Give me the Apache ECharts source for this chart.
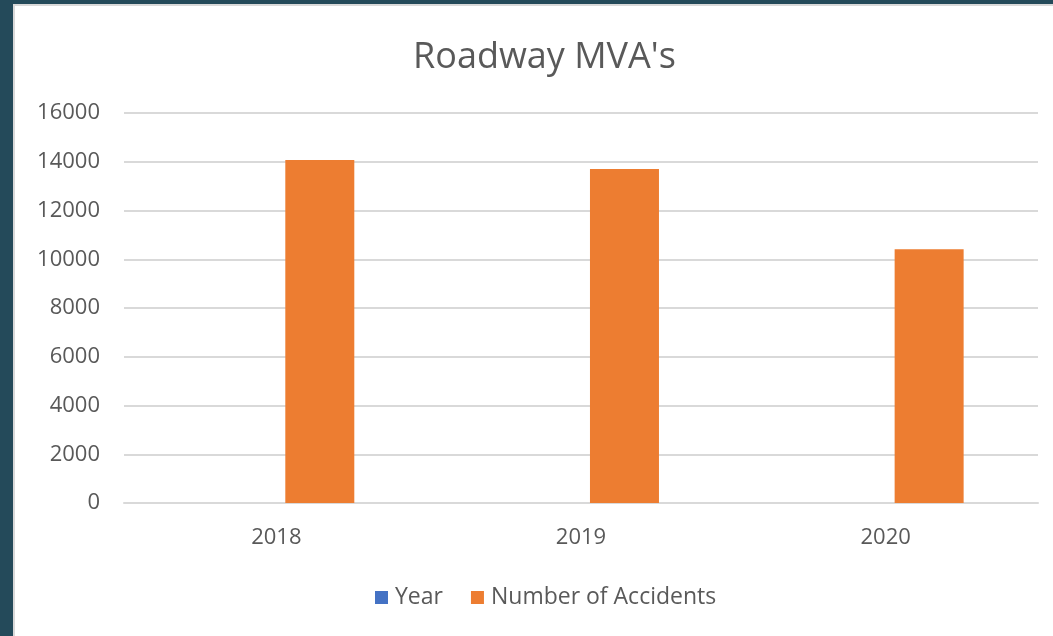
<!DOCTYPE html>
<html>
<head>
<meta charset="utf-8">
<script src="https://cdn.jsdelivr.net/npm/echarts@6/dist/echarts.min.js"></script>
<style>
  html, body { margin: 0; padding: 0; width: 1053px; height: 636px; overflow: hidden; background: #244a5a; }
  #frame { position: absolute; left: 13px; top: 4px; width: 1038px; height: 630px; border-left: 2px solid #d9d9d9; border-top: 2px solid #d9d9d9; background: #ffffff; }
  #chart { width: 1038px; height: 630px; }
</style>
</head>
<body>
<div id="frame"><div id="chart"></div></div>
<script>
// Roadway motor vehicle accidents per year
const categories = ['2018', '2019', '2020'];
const yearValues = [null, null, null];
const accidentValues = [14070, 13700, 10410];
const yTicks = { min: 0, max: 16000, interval: 2000 };

const textColor = '#595959';
const fontFamily = '"Open Sans", "Noto Sans", sans-serif';

const chart = echarts.init(document.getElementById('chart'), null, { renderer: 'canvas' });
chart.setOption({
  animation: false,
  backgroundColor: '#ffffff',
  textStyle: { fontFamily: fontFamily, color: textColor },
  title: {
    text: "Roadway MVA's",
    left: 393,
    top: 29,
    textStyle: { fontFamily: fontFamily, fontSize: 36, fontWeight: 'normal', color: textColor }
  },
  legend: {
    bottom: 22,
    left: 355,
    itemWidth: 13,
    itemHeight: 13,
    itemGap: 28,
    icon: 'rect',
    textStyle: { fontFamily: fontFamily, fontSize: 23, color: textColor, padding: [0, 0, 0, 2] },
    data: ['Year', 'Number of Accidents']
  },
  grid: { left: 109, right: 15, top: 107, bottom: 133, containLabel: false },
  xAxis: {
    type: 'category',
    data: categories,
    axisLine: { show: true, lineStyle: { color: '#d9d9d9', width: 2 } },
    axisTick: { show: false },
    axisLabel: { fontFamily: fontFamily, fontSize: 22, color: textColor, margin: 24 }
  },
  yAxis: {
    type: 'value',
    min: yTicks.min,
    max: yTicks.max,
    interval: yTicks.interval,
    axisLine: { show: false },
    axisTick: { show: false },
    axisLabel: {
      fontFamily: fontFamily, fontSize: 22, color: textColor, margin: 24,
      formatter: function (v) { return String(v); }
    },
    splitLine: { lineStyle: { color: '#d9d9d9', width: 2 } }
  },
  series: [
    {
      name: 'Year',
      type: 'bar',
      data: yearValues,
      barWidth: 69,
      barGap: '26%',
      itemStyle: { color: '#4472c4' }
    },
    {
      name: 'Number of Accidents',
      type: 'bar',
      data: accidentValues,
      barWidth: 69,
      barGap: '26%',
      itemStyle: { color: '#ed7d31' }
    }
  ]
});
</script>
</body>
</html>
